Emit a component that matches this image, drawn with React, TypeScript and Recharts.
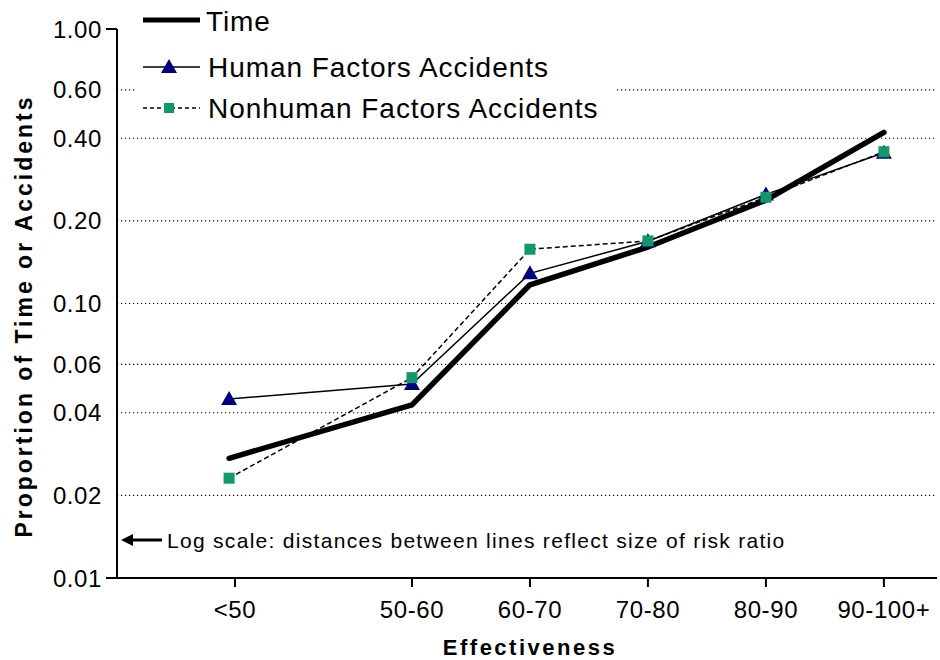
import React from 'react';
import { LineChart, Line, XAxis, YAxis, ReferenceLine } from 'recharts';

const categories = ['<50', '50-60', '60-70', '70-80', '80-90', '90-100+'];
const tickPositions = [0, 1.5, 2.5, 3.5, 4.5, 5.5];
const pointPositions = [-0.05, 1.5, 2.5, 3.5, 4.5, 5.5];
const timeValues = [0.0273, 0.0427, 0.117, 0.1606, 0.238, 0.42];
const humanValues = [0.0449, 0.0509, 0.1288, 0.1686, 0.2497, 0.3543];
const nonhumanValues = [0.0231, 0.0537, 0.1577, 0.169, 0.2438, 0.357];
const yTicks = [0.01, 0.02, 0.04, 0.06, 0.1, 0.2, 0.4, 0.6, 1];
const gridValues = [0.02, 0.04, 0.06, 0.1, 0.2, 0.4, 0.6];
const yTickMarks = [0.01, 1];

const data = pointPositions.map((x, i) => ({
  x,
  time: timeValues[i],
  human: humanValues[i],
  nonhuman: nonhumanValues[i],
}));

const FONT = '"Liberation Sans", Arial, Helvetica, sans-serif';
const NAVY = '#000080';
const GREEN = '#11996A';

const Triangle = (props: any) => {
  const { cx, cy } = props;
  if (cx == null || cy == null) return null;
  return (
    <polygon
      key={`t-${cx}`}
      points={`${cx},${cy - 8} ${cx - 8},${cy + 6} ${cx + 8},${cy + 6}`}
      fill={NAVY}
    />
  );
};

const Square = (props: any) => {
  const { cx, cy } = props;
  if (cx == null || cy == null) return null;
  return <rect key={`s-${cx}`} x={cx - 5.5} y={cy - 5.5} width={11} height={11} fill={GREEN} />;
};

const XTick = (props: any) => {
  const { x, payload } = props;
  const idx = tickPositions.indexOf(payload.value);
  return (
    <text x={x} y={618} textAnchor="middle" fontFamily={FONT} fontSize={24} letterSpacing={0.6} fill="#000">
      {categories[idx]}
    </text>
  );
};

const YTick = (props: any) => {
  const { y, payload } = props;
  const v = payload.value;
  return (
    <g>
      <text x={102} y={y} dy={8.5} textAnchor="end" fontFamily={FONT} fontSize={24} letterSpacing={0.6} fill="#000">
        {v.toFixed(2)}
      </text>
      {yTickMarks.includes(v) ? <line x1={106} x2={117} y1={y} y2={y} stroke="#000" strokeWidth={2} /> : null}
    </g>
  );
};

export default function App() {
  return (
    <div style={{ position: 'absolute', left: 0, top: 0, width: 940, height: 660, background: '#fff' }}>
      <LineChart
        width={940}
        height={660}
        data={data}
        margin={{ top: 29, right: 3, bottom: 40, left: 0 }}
      >
        <XAxis
          dataKey="x"
          type="number"
          domain={[-1, 5.95]}
          ticks={tickPositions}
          allowDataOverflow
          height={42}
          axisLine={{ stroke: '#000', strokeWidth: 2 }}
          tickLine={{ stroke: '#000', strokeWidth: 2 }}
          tickSize={9}
          tick={<XTick />}
          interval={0}
        />
        <YAxis
          type="number"
          scale="log"
          domain={[0.01, 1]}
          ticks={yTicks}
          allowDataOverflow
          width={117}
          axisLine={{ stroke: '#000', strokeWidth: 2 }}
          tickLine={false}
          tickSize={0}
          tick={<YTick />}
          interval={0}
        />
        {gridValues.map((g) => (
          <ReferenceLine
            key={g}
            y={g}
            stroke="#000"
            strokeWidth={1.2}
            strokeDasharray="1.2 2.8"
          />
        ))}
        <Line
          dataKey="time"
          stroke="#000"
          strokeWidth={5.5}
          strokeLinecap="round"
          strokeLinejoin="round"
          dot={false}
          isAnimationActive={false}
        />
        <Line
          dataKey="human"
          stroke="#000"
          strokeWidth={1.5}
          dot={<Triangle />}
          isAnimationActive={false}
        />
        <Line
          dataKey="nonhuman"
          stroke="#000"
          strokeWidth={1.5}
          strokeDasharray="5 3"
          dot={<Square />}
          isAnimationActive={false}
        />
      </LineChart>
      <svg
        width={940}
        height={660}
        style={{ position: 'absolute', left: 0, top: 0, pointerEvents: 'none' }}
      >
        <text
          transform="translate(32,316) rotate(-90)"
          textAnchor="middle"
          fontFamily={FONT}
          fontSize={23}
          fontWeight="bold"
          letterSpacing={3}
          fill="#000"
        >
          Proportion of Time or Accidents
        </text>
        <text x={530} y={655} textAnchor="middle" fontFamily={FONT} fontSize={22} fontWeight="bold" letterSpacing={2.5} fill="#000">
          Effectiveness
        </text>
        <line x1={130} x2={162} y1={540} y2={540} stroke="#000" strokeWidth={3} />
        <polygon points="121,540 133,534 133,546" fill="#000" />
        <text x={167} y={548} fontFamily={FONT} fontSize={21} letterSpacing={1.3} fill="#000">
          Log scale: distances between lines reflect size of risk ratio
        </text>
      </svg>
      <div style={{ position: 'absolute', left: 135, top: 0, width: 480, height: 126, background: '#fff' }}>
        <svg width={480} height={126}>
          <line x1={8} x2={65} y1={20} y2={20} stroke="#000" strokeWidth={5} />
          <text x={71} y={31} fontFamily={FONT} fontSize={28} letterSpacing={0.9} fill="#000">Time</text>
          <line x1={8} x2={65} y1={67} y2={67} stroke="#000" strokeWidth={1.5} />
          <polygon points="34,59 26,73 42,73" fill={NAVY} />
          <text x={73} y={77} fontFamily={FONT} fontSize={28} letterSpacing={0.95} fill="#000">Human Factors Accidents</text>
          <line x1={8} x2={65} y1={108} y2={108} stroke="#000" strokeWidth={1.5} strokeDasharray="4 3" />
          <rect x={29} y={103} width={10} height={10} fill={GREEN} />
          <text x={73} y={118} fontFamily={FONT} fontSize={28} letterSpacing={0.95} fill="#000">Nonhuman Factors Accidents</text>
        </svg>
      </div>
    </div>
  );
}
